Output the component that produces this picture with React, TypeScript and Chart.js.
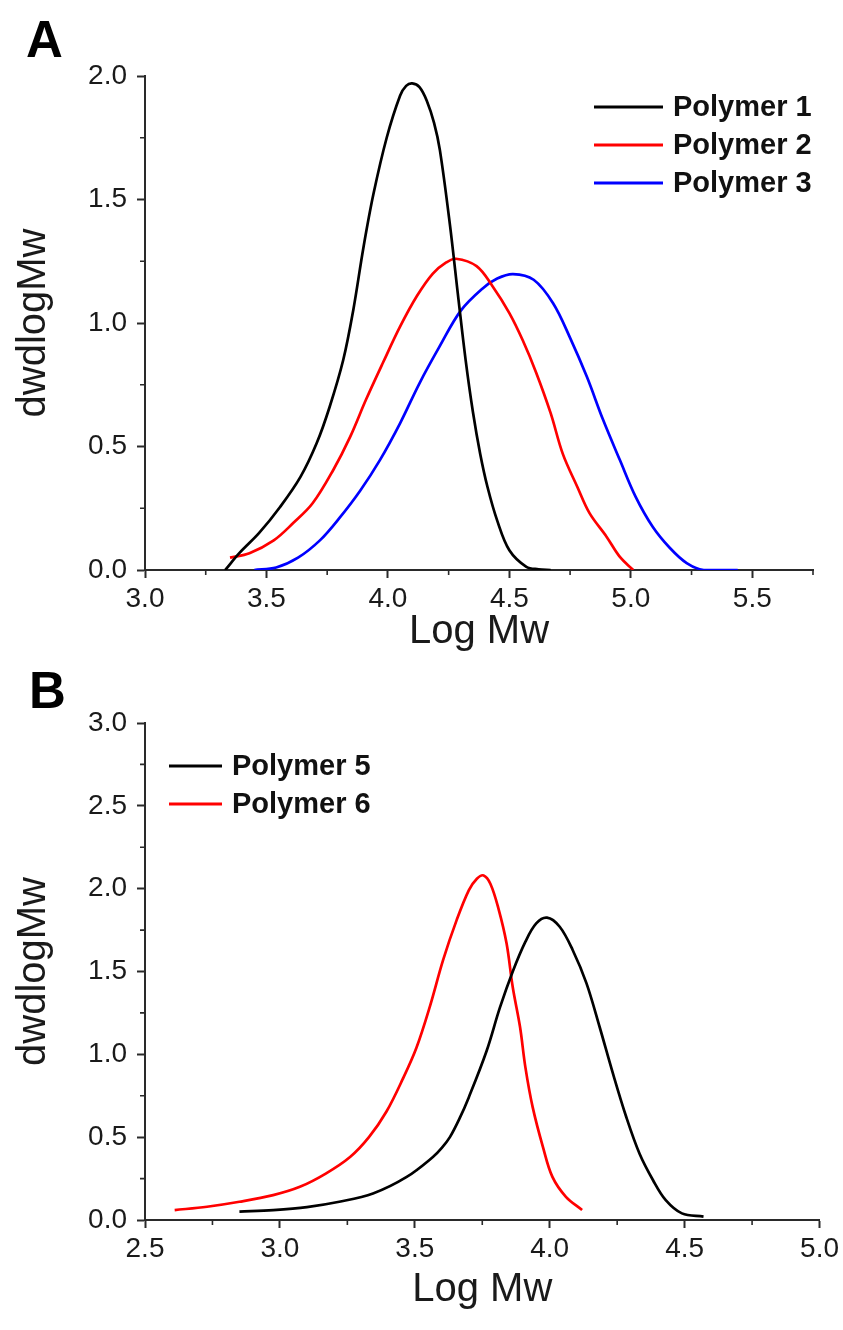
import React, { useEffect, useRef } from "react";
import { Chart, registerables } from "chart.js";

Chart.register(...registerables);

const FONT = "'Liberation Sans', Arial, Helvetica, sans-serif";
const AXIS_COLOR = "#2a2a2a";
const TEXT_COLOR = "#1a1a1a";

// ---------- Panel A data ----------
const p1X = [3.33, 3.39, 3.47, 3.556, 3.64, 3.707, 3.76, 3.816, 3.857, 3.9, 3.94, 3.995, 4.05, 4.075, 4.1, 4.13, 4.16, 4.19, 4.214, 4.255, 4.29, 4.32, 4.35, 4.38, 4.41, 4.45, 4.5, 4.57, 4.62, 4.67];
const p1Y = [0.0, 0.07, 0.15, 0.255, 0.377, 0.514, 0.66, 0.85, 1.05, 1.31, 1.52, 1.75, 1.92, 1.96, 1.97, 1.955, 1.9, 1.81, 1.7, 1.4, 1.1, 0.85, 0.64, 0.47, 0.336, 0.2, 0.08, 0.013, 0.003, 0.0];

const p2X = [3.35, 3.43, 3.53, 3.61, 3.69, 3.775, 3.845, 3.91, 3.98, 4.05, 4.12, 4.185, 4.24, 4.28, 4.365, 4.43, 4.5, 4.555, 4.61, 4.67, 4.72, 4.78, 4.83, 4.9, 4.955, 5.01];
const p2Y = [0.05, 0.068, 0.12, 0.19, 0.27, 0.405, 0.54, 0.69, 0.84, 0.985, 1.11, 1.2, 1.245, 1.26, 1.23, 1.15, 1.04, 0.93, 0.8, 0.635, 0.47, 0.336, 0.23, 0.135, 0.053, 0.0];

const p3X = [3.45, 3.54, 3.63, 3.72, 3.8, 3.885, 3.967, 4.05, 4.13, 4.21, 4.3, 4.39, 4.45, 4.515, 4.6, 4.68, 4.75, 4.82, 4.885, 4.955, 5.02, 5.09, 5.16, 5.23, 5.3, 5.44];
const p3Y = [0.0, 0.01, 0.05, 0.12, 0.21, 0.32, 0.445, 0.594, 0.756, 0.9, 1.05, 1.14, 1.18, 1.198, 1.175, 1.08, 0.94, 0.78, 0.61, 0.445, 0.296, 0.175, 0.09, 0.028, 0.0, 0.0];

const labelsA = ["Polymer 1", "Polymer 2", "Polymer 3"];
const colorsA = ["#000000", "#ff0000", "#0000ff"];
const xTicksA = [3.0, 3.5, 4.0, 4.5, 5.0, 5.5];
const yTicksA = [0.0, 0.5, 1.0, 1.5, 2.0];

// ---------- Panel B data ----------
const p5X = [2.85, 2.975, 3.1, 3.22, 3.345, 3.47, 3.567, 3.6, 3.63, 3.665, 3.7, 3.766, 3.815, 3.863, 3.91, 3.95, 3.99, 4.037, 4.085, 4.136, 4.185, 4.235, 4.284, 4.333, 4.383, 4.43, 4.49, 4.57];
const p5Y = [0.05, 0.06, 0.078, 0.11, 0.16, 0.26, 0.38, 0.435, 0.5, 0.61, 0.74, 1.02, 1.28, 1.5, 1.68, 1.79, 1.825, 1.77, 1.63, 1.43, 1.165, 0.88, 0.62, 0.4, 0.24, 0.12, 0.04, 0.02];

const p6X = [2.61, 2.73, 2.85, 2.975, 3.074, 3.17, 3.26, 3.33, 3.395, 3.455, 3.506, 3.556, 3.605, 3.655, 3.7, 3.73, 3.755, 3.78, 3.81, 3.84, 3.863, 3.89, 3.91, 3.937, 3.975, 4.01, 4.06, 4.12];
const p6Y = [0.06, 0.08, 0.11, 0.15, 0.2, 0.28, 0.38, 0.5, 0.655, 0.85, 1.04, 1.29, 1.57, 1.81, 1.99, 2.06, 2.08, 2.03, 1.88, 1.67, 1.405, 1.165, 0.92, 0.68, 0.44, 0.26, 0.14, 0.06];

const labelsB = ["Polymer 5", "Polymer 6"];
const colorsB = ["#000000", "#ff0000"];
const xTicksB = [2.5, 3.0, 3.5, 4.0, 4.5, 5.0];
const yTicksB = [0.0, 0.5, 1.0, 1.5, 2.0, 2.5, 3.0];

const xTitle = "Log Mw";
const yTitle = "dwdlogMw";

const CANVAS_W = 843;

function toPoints(xs: number[], ys: number[]) {
  return xs.map((x, i) => ({ x, y: ys[i] }));
}

type PanelSpec = {
  series: { x: number[]; y: number[] }[];
  labels: string[];
  colors: string[];
  xTicks: number[];
  yTicks: number[];
  xMax: number;
  minorStepX: number;
  minorStepY: number;
  height: number;
  areaLeft: number;
  areaTop: number;
  areaBottom: number;
  areaRight: number;
  xTitlePad: number;
  yTitlePad: number;
  letter: string;
  letterX: number;
  letterY: number;
  legend: { x0: number; x1: number; tx: number; y0: number; dy: number };
};

function buildConfig(p: PanelSpec): any {
  const yMin = p.yTicks[0];
  const yMax = p.yTicks[p.yTicks.length - 1];
  const xMin = p.xTicks[0];
  const minorX: number[] = p.xTicks.map((v) => v + p.minorStepX).filter((v) => v <= p.xMax + 1e-9);
  const minorY: number[] = p.yTicks.map((v) => v + p.minorStepY).filter((v) => v <= yMax + 1e-9);

  const decor = {
    id: "decor_" + p.letter,
    afterDraw(chart: any) {
      const ctx: CanvasRenderingContext2D = chart.ctx;
      const xs = chart.scales.x;
      const ys = chart.scales.y;
      const area = chart.chartArea;
      ctx.save();
      // minor ticks
      ctx.strokeStyle = AXIS_COLOR;
      ctx.lineWidth = 1.6;
      ctx.beginPath();
      minorX.forEach((v) => {
        const px = xs.getPixelForValue(v);
        ctx.moveTo(px, area.bottom);
        ctx.lineTo(px, area.bottom + 5);
      });
      minorY.forEach((v) => {
        const py = ys.getPixelForValue(v);
        ctx.moveTo(area.left - 5, py);
        ctx.lineTo(area.left, py);
      });
      ctx.stroke();

      // panel letter
      ctx.fillStyle = "#000";
      ctx.font = `bold 51px ${FONT}`;
      ctx.textBaseline = "alphabetic";
      ctx.textAlign = "left";
      ctx.fillText(p.letter, p.letterX, p.letterY);

      // legend
      ctx.font = `bold 29px ${FONT}`;
      ctx.textBaseline = "middle";
      chart.data.datasets.forEach((ds: any, i: number) => {
        const y = p.legend.y0 + i * p.legend.dy;
        ctx.strokeStyle = ds.borderColor;
        ctx.lineWidth = 3;
        ctx.beginPath();
        ctx.moveTo(p.legend.x0, y);
        ctx.lineTo(p.legend.x1, y);
        ctx.stroke();
        ctx.fillStyle = "#111";
        ctx.fillText(ds.label, p.legend.tx, y + 1);
      });
      ctx.restore();
    },
  };

  const tickFont = { family: FONT, size: 28 };
  const titleFont = { family: FONT, size: 40, lineHeight: 1 };

  return {
    type: "line",
    data: {
      datasets: p.series.map((s, i) => ({
        label: p.labels[i],
        data: toPoints(s.x, s.y),
        borderColor: p.colors[i],
        backgroundColor: p.colors[i],
        borderWidth: 2.7,
        pointRadius: 0,
        fill: false,
        tension: 0.35,
      })),
    },
    options: {
      responsive: false,
      animation: false,
      layout: {
        padding: { top: p.areaTop, right: CANVAS_W - p.areaRight, bottom: 0, left: 0 },
      },
      plugins: {
        legend: { display: false },
        tooltip: { enabled: false },
      },
      scales: {
        x: {
          type: "linear",
          min: xMin,
          max: p.xMax,
          afterBuildTicks: (scale: any) => {
            scale.ticks = p.xTicks.map((v) => ({ value: v }));
          },
          afterFit: (scale: any) => {
            scale.height = p.height - p.areaBottom;
          },
          grid: {
            drawOnChartArea: false,
            drawTicks: true,
            tickLength: 8,
            tickWidth: 2,
            tickColor: AXIS_COLOR,
          },
          border: { display: true, color: AXIS_COLOR, width: 2 },
          ticks: {
            font: tickFont,
            color: TEXT_COLOR,
            padding: 4,
            autoSkip: false,
            maxRotation: 0,
            callback: (v: any) => Number(v).toFixed(1),
          },
          title: {
            display: true,
            text: xTitle,
            font: titleFont,
            color: TEXT_COLOR,
            padding: { top: 0, bottom: p.xTitlePad },
          },
        },
        y: {
          type: "linear",
          min: yMin,
          max: yMax,
          afterBuildTicks: (scale: any) => {
            scale.ticks = p.yTicks.map((v) => ({ value: v }));
          },
          afterFit: (scale: any) => {
            scale.width = p.areaLeft;
          },
          grid: {
            drawOnChartArea: false,
            drawTicks: true,
            tickLength: 8,
            tickWidth: 2,
            tickColor: AXIS_COLOR,
          },
          border: { display: true, color: AXIS_COLOR, width: 2 },
          ticks: {
            font: tickFont,
            color: TEXT_COLOR,
            padding: 10,
            autoSkip: false,
            callback: (v: any) => Number(v).toFixed(1),
          },
          title: {
            display: true,
            text: yTitle,
            font: titleFont,
            color: TEXT_COLOR,
            padding: { top: p.yTitlePad, bottom: 0 },
          },
        },
      },
    },
    plugins: [decor],
  };
}

const H_A = 668;
const H_B = 662;

export default function App() {
  const refA = useRef<HTMLCanvasElement>(null);
  const refB = useRef<HTMLCanvasElement>(null);

  useEffect(() => {
    const cfgA = buildConfig({
      series: [
        { x: p1X, y: p1Y },
        { x: p2X, y: p2Y },
        { x: p3X, y: p3Y },
      ],
      labels: labelsA,
      colors: colorsA,
      xTicks: xTicksA,
      yTicks: yTicksA,
      xMax: 5.75,
      minorStepX: 0.25,
      minorStepY: 0.25,
      height: H_A,
      areaLeft: 145,
      areaTop: 76,
      areaBottom: 570,
      areaRight: 813,
      xTitlePad: 16,
      yTitlePad: 14,
      letter: "A",
      letterX: 26,
      letterY: 57,
      legend: { x0: 594, x1: 663, tx: 673, y0: 107, dy: 38 },
    });
    const cfgB = buildConfig({
      series: [
        { x: p5X, y: p5Y },
        { x: p6X, y: p6Y },
      ],
      labels: labelsB,
      colors: colorsB,
      xTicks: xTicksB,
      yTicks: yTicksB,
      xMax: 5.0,
      minorStepX: 0.25,
      minorStepY: 0.25,
      height: H_B,
      areaLeft: 145,
      areaTop: 55,
      areaBottom: 552,
      areaRight: 820,
      xTitlePad: 20,
      yTitlePad: 14,
      letter: "B",
      letterX: 29,
      letterY: 40,
      legend: { x0: 169, x1: 222, tx: 232, y0: 98, dy: 38 },
    });
    const a = new Chart(refA.current as HTMLCanvasElement, cfgA);
    const b = new Chart(refB.current as HTMLCanvasElement, cfgB);
    return () => {
      a.destroy();
      b.destroy();
    };
  }, []);

  return (
    <div style={{ position: "absolute", left: 0, top: 0, width: CANVAS_W, background: "#ffffff" }}>
      <canvas ref={refA} width={CANVAS_W} height={H_A} style={{ display: "block", width: CANVAS_W, height: H_A }} />
      <canvas ref={refB} width={CANVAS_W} height={H_B} style={{ display: "block", width: CANVAS_W, height: H_B }} />
    </div>
  );
}
